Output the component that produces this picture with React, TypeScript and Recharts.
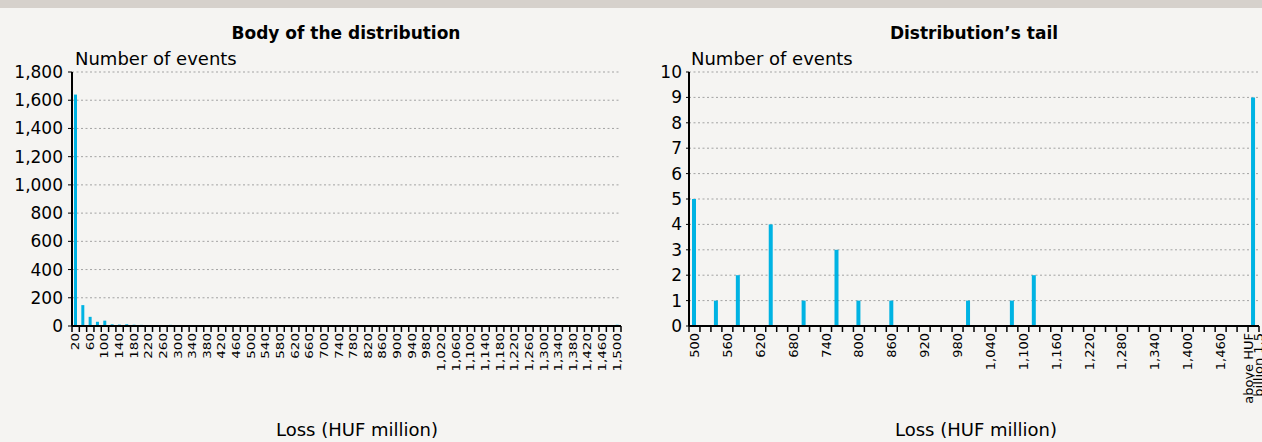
import React from "react";
import { BarChart, Bar, XAxis, YAxis, CartesianGrid } from "recharts";

const FONT = "'DejaVu Sans', Verdana, sans-serif";
const BAR = "#00b3e3";
const GRID = "#a3a3a3";

// body of the distribution: upper bound of each HUF 20 million bin
const bodyLoss = [
  20, 40, 60, 80, 100, 120, 140, 160, 180, 200, 220, 240, 260, 280, 300, 320,
  340, 360, 380, 400, 420, 440, 460, 480, 500, 520, 540, 560, 580, 600, 620,
  640, 660, 680, 700, 720, 740, 760, 780, 800, 820, 840, 860, 880, 900, 920,
  940, 960, 980, 1000, 1020, 1040, 1060, 1080, 1100, 1120, 1140, 1160, 1180,
  1200, 1220, 1240, 1260, 1280, 1300, 1320, 1340, 1360, 1380, 1400, 1420, 1440,
  1460, 1480, 1500,
];
const bodyEvents = [
  1640, 148, 65, 30, 38, 12, 10, 12, 9, 8, 3, 2, 2, 8, 2, 1, 2, 1, 1, 0, 1, 0,
  1, 0, 5, 0, 1, 0, 2, 0, 0, 4, 0, 0, 1, 0, 0, 3, 0, 1, 0, 0, 1, 0, 0, 0, 0, 0,
  0, 1, 0, 0, 0, 1, 0, 2, 0, 0, 0, 0, 0, 0, 0, 0, 0, 0, 0, 0, 0, 0, 0, 0, 0, 0,
  9,
];
const bodyTicks = [0, 200, 400, 600, 800, 1000, 1200, 1400, 1600, 1800];

// the tail
const tailLoss: (number | string)[] = [
  500, 520, 540, 560, 580, 600, 620, 640, 660, 680, 700, 720, 740, 760, 780,
  800, 820, 840, 860, 880, 900, 920, 940, 960, 980, 1000, 1020, 1040, 1060,
  1080, 1100, 1120, 1140, 1160, 1180, 1200, 1220, 1240, 1260, 1280, 1300, 1320,
  1340, 1360, 1380, 1400, 1420, 1440, 1460, 1480, 1500, "above HUF billion 1.5",
];
const tailEvents = [
  5, 0, 1, 0, 2, 0, 0, 4, 0, 0, 1, 0, 0, 3, 0, 1, 0, 0, 1, 0, 0, 0, 0, 0, 0, 1,
  0, 0, 0, 1, 0, 2, 0, 0, 0, 0, 0, 0, 0, 0, 0, 0, 0, 0, 0, 0, 0, 0, 0, 0, 0, 9,
];
const tailTicks = [0, 1, 2, 3, 4, 5, 6, 7, 8, 9, 10];

const bodyData = bodyLoss.map((loss, i) => ({ loss, events: bodyEvents[i] }));
const tailData = tailLoss.map((loss, i) => ({ loss, events: tailEvents[i] }));

const fmt = (v: number | string) =>
  typeof v === "number" ? v.toLocaleString("en-US") : v;

function makeTick(
  band: number,
  every: number,
  count: number,
  fontSize: number,
  squeeze: number
) {
  return function LossTick(props: any) {
    const { x, y, payload, index } = props;
    const i = index ?? payload.index;
    const v = payload.value;
    const label = i % every === 0;
    const lines =
      typeof v === "string" ? ["above HUF", "billion 1.5"] : [fmt(v)];
    return (
      <g>
        <line x1={x - band / 2} x2={x - band / 2} y1={y} y2={y + 6} stroke="#000" strokeWidth={1.5} />
        {i === count - 1 && (
          <line x1={x + band / 2} x2={x + band / 2} y1={y} y2={y + 6} stroke="#000" strokeWidth={1.5} />
        )}
        {label &&
          lines.map((t, k) => (
            <text
              key={k}
              transform={`translate(${x + (k - (lines.length - 1) / 2) * 10},${y + 7}) rotate(-90) scale(1,${squeeze})`}
              textAnchor="end"
              dominantBaseline="central"
              fontSize={fontSize}
              fontFamily={FONT}
              fill="#000"
            >
              {t}
            </text>
          ))}
      </g>
    );
  };
}

const BodyTick = makeTick(549 / 75, 2, 75, 13.5, 0.74);
const TailTick = makeTick(570 / 52, 3, 52, 13, 1);

export default function App() {
  return (
    <div
      style={{
        position: "absolute",
        left: 0,
        top: 0,
        width: 1262,
        height: 442,
        background: "#f5f4f2",
        overflow: "hidden",
        fontFamily: FONT,
      }}
    >
      <div style={{ position: "absolute", left: 0, top: 0, width: 1262, height: 8, background: "#d6d1cc" }} />

      <div style={{ position: "absolute", left: 0, top: 0 }}>
        <BarChart
          width={640}
          height={442}
          data={bodyData}
          margin={{ top: 72, right: 19, bottom: 56, left: 0 }}
          barCategoryGap={0}
        >
          <CartesianGrid vertical={false} stroke={GRID} strokeDasharray="2 2.5" />
          <XAxis
            dataKey="loss"
            interval={0}
            height={60}
            tickSize={0}
            tickMargin={0}
            tickLine={false}
            axisLine={{ stroke: "#000", strokeWidth: 2 }}
            tick={BodyTick}
          />
          <YAxis
            width={72}
            domain={[0, 1800]}
            ticks={bodyTicks}
            tickFormatter={fmt}
            tickSize={4}
            tickMargin={5}
            tickLine={{ stroke: "#000" }}
            axisLine={{ stroke: "#000", strokeWidth: 2 }}
            tick={{ fontSize: 17, fill: "#000", fontFamily: FONT }}
          />
          <Bar dataKey="events" fill={BAR} barSize={3} isAnimationActive={false} />
        </BarChart>
      </div>

      <div style={{ position: "absolute", left: 640, top: 0 }}>
        <BarChart
          width={622}
          height={442}
          data={tailData}
          margin={{ top: 72, right: 3, bottom: 56, left: 0 }}
          barCategoryGap={0}
        >
          <CartesianGrid vertical={false} stroke={GRID} strokeDasharray="2 2.5" />
          <XAxis
            dataKey="loss"
            interval={0}
            height={60}
            tickSize={0}
            tickMargin={0}
            tickLine={false}
            axisLine={{ stroke: "#000", strokeWidth: 2 }}
            tick={TailTick}
          />
          <YAxis
            width={49}
            domain={[0, 10]}
            ticks={tailTicks}
            tickSize={3}
            tickMargin={4}
            tickLine={{ stroke: "#000" }}
            axisLine={{ stroke: "#000", strokeWidth: 2 }}
            tick={{ fontSize: 17, fill: "#000", fontFamily: FONT }}
          />
          <Bar dataKey="events" fill={BAR} barSize={4} isAnimationActive={false} />
        </BarChart>
      </div>

      <svg
        width={1262}
        height={442}
        style={{ position: "absolute", left: 0, top: 0, pointerEvents: "none" }}
        fontFamily={FONT}
      >
        <text x={346} y={39} textAnchor="middle" fontSize={17} fontWeight="bold">
          Body of the distribution
        </text>
        <text x={974} y={39} textAnchor="middle" fontSize={17} fontWeight="bold">
          Distribution’s tail
        </text>
        <text x={75} y={65} fontSize={18}>Number of events</text>
        <text x={691} y={65} fontSize={18}>Number of events</text>
        <text x={357} y={436} textAnchor="middle" fontSize={18}>Loss (HUF million)</text>
        <text x={976} y={436} textAnchor="middle" fontSize={18}>Loss (HUF million)</text>
      </svg>
    </div>
  );
}
